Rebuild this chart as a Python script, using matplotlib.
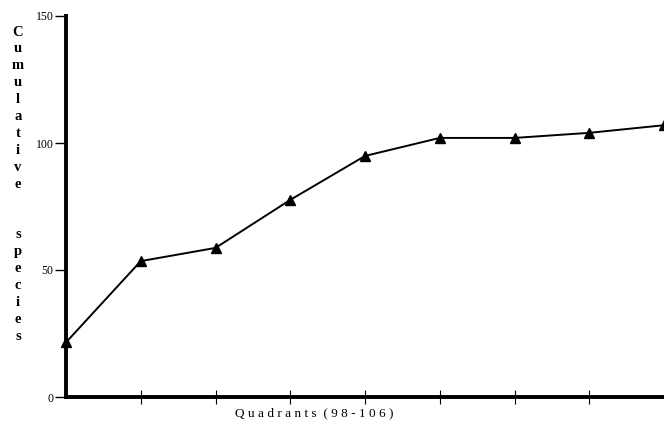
import matplotlib
matplotlib.use("Agg")
import matplotlib.pyplot as plt

quadrants = [98, 99, 100, 101, 102, 103, 104, 105, 106]
cumulative_species = [21.5, 53.5, 58.7, 77.6, 94.9, 102, 102, 104, 107]
y_ticks = [0, 50, 100, 150]
y_tick_labels = ["0", "50", "100", "150"]
x_ticks = [99, 100, 101, 102, 103, 104, 105]
ylabel_words = ["Cumulative", "species"]
xlabel = "Q u a d r a n t s  ( 9 8 - 1 0 6 )"

W, H = 664, 430
fig = plt.figure(figsize=(W / 100, H / 100), dpi=100)
left, right, bottom, top = 66, 664, 397, 16
ax = fig.add_axes([left / W, (H - bottom) / H, (right - left) / W, (bottom - top) / H])

ax.plot(quadrants, cumulative_species, color="black", lw=1.4, marker="^",
        markersize=7, markerfacecolor="black", markeredgecolor="black", clip_on=False, zorder=3)

ax.set_xlim(98, 106)
ax.set_ylim(0, 150)
for s in ["top", "right"]:
    ax.spines[s].set_visible(False)
ax.spines["left"].set_linewidth(2.8)
ax.spines["bottom"].set_linewidth(2.8)

ax.set_yticks(y_ticks)
ax.set_yticklabels(y_tick_labels, family="Liberation Serif", fontsize=8.5)
ax.tick_params(axis="y", direction="out", length=8, width=1, pad=1)
ax.set_xticks(x_ticks)
ax.set_xticklabels([""] * len(x_ticks))
ax.tick_params(axis="x", direction="inout", length=10, width=0.8)

fig.text(314 / W, 1 - 413 / H, xlabel, ha="center", va="center",
         family="Liberation Serif", fontsize=9.5)

# vertical stacked y label
step = 16.9
y0 = 32
letters = list(ylabel_words[0]) + ["", ""] + list(ylabel_words[1])
for i, ch in enumerate(letters):
    if ch:
        fig.text(18 / W, 1 - (y0 + i * step) / H, ch, ha="center", va="center",
                 family="Liberation Serif", fontweight="bold", fontsize=10.5)

fig.savefig("out.png", dpi=100)
